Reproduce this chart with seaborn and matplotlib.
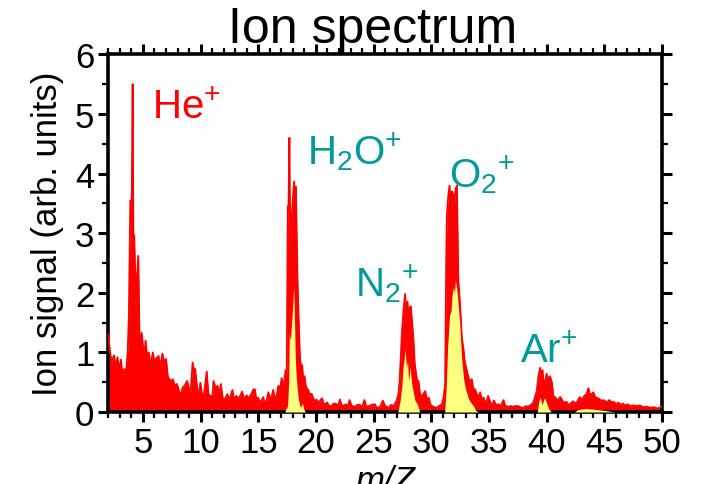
import matplotlib
matplotlib.use("Agg")
import matplotlib.pyplot as plt
import seaborn as sns
import pandas as pd
from matplotlib.ticker import MultipleLocator, FixedLocator

# ---------------- data ----------------
mz_total = [
    2.00, 2.15, 2.29, 2.49, 2.64, 2.79, 2.94, 3.09, 3.24, 3.39, 3.54, 3.68, 3.78, 3.91, 4.03, 4.11,
    4.17, 4.25, 4.37, 4.47, 4.60, 4.72, 4.89, 5.02, 5.12, 5.23, 5.36, 5.51, 5.66, 5.86, 6.01, 6.16,
    6.36, 6.51, 6.69, 6.86, 7.01, 7.16, 7.29, 7.45, 7.60, 7.75, 7.95, 8.14, 8.29, 8.44, 8.64, 8.83,
    8.98, 9.13, 9.31, 9.43, 9.53, 9.68, 9.83, 9.98, 10.13, 10.28, 10.53, 10.68, 10.87, 11.02, 11.12,
    11.32, 11.47, 11.62, 11.76, 11.91, 12.11, 12.31, 12.51, 12.76, 12.90, 13.10, 13.30, 13.60, 13.79,
    13.99, 14.19, 14.39, 14.58, 14.71, 14.83, 14.98, 15.13, 15.28, 15.43, 15.58, 15.73, 15.88, 16.07,
    16.30, 16.42, 16.50, 16.62, 16.74, 16.87, 17.03, 17.12, 17.23, 17.37, 17.47, 17.56, 17.62, 17.70,
    17.77, 17.87, 17.97, 18.11, 18.19, 18.26, 18.33, 18.39, 18.46, 18.54, 18.62, 18.69, 18.81, 18.92,
    19.01, 19.11, 19.21, 19.31, 19.46, 19.65, 19.75, 19.90, 20.05, 20.19, 20.34, 20.54, 20.69, 20.79,
    20.98, 21.13, 21.33, 21.53, 21.72, 21.92, 22.07, 22.22, 22.37, 22.61, 22.76, 22.91, 23.11, 23.38,
    23.60, 23.80, 24.00, 24.20, 24.35, 24.50, 24.80, 25.10, 25.25, 25.40, 25.60, 25.80, 26.00, 26.30,
    26.50, 26.70, 26.85, 27.00, 27.15, 27.25, 27.35, 27.45, 27.59, 27.73, 27.84, 27.94, 28.04, 28.14,
    28.23, 28.34, 28.46, 28.57, 28.67, 28.79, 28.89, 28.99, 29.13, 29.29, 29.48, 29.63, 29.78, 29.93,
    30.07, 30.27, 30.47, 30.67, 30.92, 31.07, 31.20, 31.29, 31.35, 31.46, 31.58, 31.68, 31.80, 31.91,
    32.01, 32.11, 32.22, 32.35, 32.50, 32.65, 32.79, 32.90, 33.05, 33.20, 33.35, 33.51, 33.64, 33.80,
    33.94, 34.09, 34.24, 34.39, 34.54, 34.68, 34.83, 34.93, 35.13, 35.28, 35.43, 35.62, 35.82, 36.02,
    36.26, 36.42, 36.71, 36.91, 37.11, 37.30, 37.55, 37.80, 38.00, 38.19, 38.39, 38.64, 38.85, 38.99,
    39.14, 39.29, 39.43, 39.54, 39.64, 39.72, 39.84, 39.99, 40.14, 40.29, 40.45, 40.59, 40.74, 40.89,
    41.18, 41.48, 41.73, 41.88, 42.08, 42.27, 42.47, 42.62, 42.86, 43.06, 43.31, 43.46, 43.62, 43.75,
    43.90, 44.05, 44.20, 44.35, 44.55, 44.74, 44.94, 45.24, 45.43, 45.63, 45.83, 46.03, 46.22, 46.42,
    46.62, 46.82, 47.01, 47.21, 47.51, 47.81, 48.10, 48.40, 48.70, 49.00, 49.29, 49.59, 49.80, 50.00,
]
signal_total = [
    1.31, 1.00, 0.85, 0.95, 0.75, 0.92, 0.70, 0.88, 0.62, 0.72, 0.68, 1.00, 1.60, 3.55, 3.50, 5.50,
    3.00, 2.95, 2.07, 2.20, 2.62, 1.10, 1.33, 1.08, 0.95, 1.20, 0.94, 1.00, 0.80, 1.00, 0.83, 0.90,
    0.94, 0.75, 0.98, 0.83, 0.89, 0.60, 0.55, 0.52, 0.55, 0.45, 0.47, 0.35, 0.27, 0.41, 0.45, 0.52,
    0.41, 0.30, 0.83, 0.70, 0.72, 0.45, 0.24, 0.49, 0.30, 0.27, 0.68, 0.30, 0.27, 0.24, 0.52,
    0.40, 0.44, 0.30, 0.47, 0.24, 0.21, 0.30, 0.21, 0.37, 0.21, 0.27, 0.22, 0.34, 0.22,
    0.28, 0.23, 0.30, 0.38, 0.38, 0.22, 0.24, 0.17, 0.19, 0.25, 0.13, 0.20, 0.33, 0.19,
    0.37, 0.22, 0.24, 0.30, 0.44, 0.36, 0.57, 0.45, 0.49, 0.70, 0.60, 3.45, 3.40, 4.60,
    2.80, 3.20, 3.50, 3.87, 3.60, 3.78, 3.03, 2.36, 1.80, 1.35, 0.89, 0.80, 0.78, 0.50,
    0.60, 0.45, 0.39, 0.38, 0.30, 0.30, 0.24, 0.18, 0.21, 0.15, 0.19, 0.23, 0.12, 0.13,
    0.16, 0.10, 0.10, 0.14, 0.14, 0.10, 0.21, 0.12, 0.10, 0.13, 0.08, 0.20, 0.10, 0.09,
    0.12, 0.12, 0.08, 0.20, 0.10, 0.09, 0.12, 0.13, 0.08, 0.07, 0.10, 0.19, 0.10, 0.07,
    0.12, 0.10, 0.14, 0.19, 0.30, 0.50, 0.90, 1.31, 1.70, 1.98, 1.60, 1.85, 1.50, 1.76,
    1.77, 1.50, 1.20, 0.80, 0.66, 0.50, 0.52, 0.35, 0.24, 0.30, 0.35, 0.20, 0.24, 0.12,
    0.10, 0.08, 0.07, 0.10, 0.13, 0.25, 0.47, 2.46, 3.30, 3.60, 3.80, 3.50, 3.70, 3.64,
    3.50, 3.75, 3.80, 2.19, 1.79, 1.25, 1.06, 0.85, 0.72, 0.60, 0.50, 0.55, 0.39, 0.38,
    0.30, 0.25, 0.33, 0.20, 0.24, 0.15, 0.20, 0.27, 0.15, 0.12, 0.19, 0.12, 0.13, 0.10,
    0.20, 0.10, 0.09, 0.10, 0.09, 0.10, 0.10, 0.07, 0.07, 0.10, 0.09, 0.12, 0.16, 0.25,
    0.35, 0.60, 0.74, 0.60, 0.70, 0.54, 0.45, 0.64, 0.55, 0.60, 0.50, 0.26, 0.25, 0.19,
    0.25, 0.16, 0.17, 0.12, 0.14, 0.18, 0.15, 0.16, 0.25, 0.21, 0.28, 0.30, 0.40, 0.30,
    0.30, 0.33, 0.25, 0.24, 0.22, 0.19, 0.20, 0.16, 0.20, 0.16, 0.17, 0.13, 0.16, 0.12,
    0.14, 0.11, 0.13, 0.10, 0.11, 0.10, 0.11, 0.08, 0.09, 0.07, 0.08, 0.06, 0.07, 0.10,
]

mz_partial = [
    2.00, 17.30, 17.39, 17.54, 17.64, 17.69, 17.79, 17.89, 17.99, 18.07, 18.14, 18.21, 18.29, 18.36,
    18.49, 18.65, 18.74, 18.83, 18.94, 19.09,
    27.10, 27.30, 27.45, 27.55, 27.65, 27.73, 27.84, 27.94, 28.03, 28.11, 28.17, 28.29, 28.39, 28.59,
    28.74, 28.89, 28.99,
    31.16, 31.29, 31.41, 31.51, 31.58, 31.71, 31.80, 31.91, 32.01, 32.09, 32.21, 32.29, 32.46, 32.56,
    32.66, 32.81, 32.96, 33.11, 33.23, 33.46, 33.66, 33.85, 34.05,
    39.19, 39.34, 39.44, 39.59, 39.74, 39.84, 39.99, 40.19, 40.39,
    42.40, 42.70, 43.40, 43.90, 44.90, 45.90, 50.00,
]
signal_partial = [
    0.00, 0.00, 0.05, 0.10, 0.50, 1.31, 1.20, 1.50, 1.80, 2.10, 1.60, 0.90, 0.60, 0.44,
    0.20, 0.08, 0.10, 0.15, 0.05, 0.00,
    0.00, 0.19, 0.45, 0.75, 0.90, 1.05, 0.75, 0.85, 0.52, 0.65, 0.75, 0.50, 0.38, 0.19,
    0.15, 0.07, 0.00,
    0.00, 0.39, 1.06, 1.40, 1.62, 1.70, 1.96, 2.10, 2.00, 2.21, 2.05, 1.90, 1.50, 1.15,
    0.84, 0.55, 0.39, 0.30, 0.22, 0.15, 0.10, 0.03, 0.00,
    0.00, 0.20, 0.25, 0.12, 0.20, 0.24, 0.15, 0.05, 0.00,
    0.00, 0.04, 0.06, 0.05, 0.03, 0.00, 0.00,
]

ion_labels = ["He$^{+}$", "H$_{2}$O$^{+}$", "N$_{2}$$^{+}$", "O$_{2}$$^{+}$", "Ar$^{+}$"]
ion_label_x = [5.75, 19.25, 23.35, 31.55, 37.7]
ion_label_y = [4.94, 4.17, 1.96, 3.78, 0.84]
ion_label_colors = ["#ff0000", "#009a9a", "#009a9a", "#009a9a", "#009a9a"]

x_major_ticks = [5, 10, 15, 20, 25, 30, 35, 40, 45, 50]

# ---------------- style ----------------
sns.set_theme(style="ticks")
plt.rcParams["font.family"] = ["Liberation Sans", "DejaVu Sans"]
plt.rcParams["mathtext.fontset"] = "custom"
plt.rcParams["mathtext.rm"] = "Liberation Sans"
plt.rcParams["mathtext.it"] = "Liberation Sans:italic"
plt.rcParams["mathtext.default"] = "rm"
plt.rcParams["text.color"] = "black"
plt.rcParams["axes.labelcolor"] = "black"
plt.rcParams["xtick.color"] = "black"
plt.rcParams["ytick.color"] = "black"

fig = plt.figure(figsize=(7.04, 4.85), dpi=100)
ax = fig.add_axes([108.3 / 704, 1 - 413 / 485, (662 - 108.3) / 704, (413 - 55.4) / 485])

df_total = pd.DataFrame({"mz": mz_total, "signal": signal_total})
df_partial = pd.DataFrame({"mz": mz_partial, "signal": signal_partial})

ax.fill_between(df_total["mz"], df_total["signal"], 0, color="#ff0000", lw=0, zorder=2)
sns.lineplot(data=df_total, x="mz", y="signal", color="#ff0000", lw=1.3,
             estimator=None, sort=False, ax=ax, zorder=3)
ax.fill_between(df_partial["mz"], df_partial["signal"], 0, color="#ffff80", lw=0, zorder=4)

for lab, lx, ly, c in zip(ion_labels, ion_label_x, ion_label_y, ion_label_colors):
    ax.text(lx, ly, lab, color=c, fontsize=29, ha="left", va="baseline", zorder=5)

ax.set_xlim(2, 50)
ax.set_ylim(0, 6)
ax.xaxis.set_major_locator(FixedLocator(x_major_ticks))
ax.xaxis.set_minor_locator(MultipleLocator(1))
ax.yaxis.set_major_locator(MultipleLocator(1))
ax.yaxis.set_minor_locator(MultipleLocator(0.5))

for sp in ax.spines.values():
    sp.set_visible(True)
    sp.set_linewidth(2.6)
    sp.set_color("black")

ax.tick_params(which="both", direction="out", top=True, right=True, color="black")
ax.tick_params(which="major", length=7, width=2.2, labelsize=25, pad=3, labelcolor="black")
ax.tick_params(which="minor", length=4, width=1.6)

ax.set_xlabel("m/Z", fontsize=25, fontstyle="italic", labelpad=4)
ax.set_ylabel("Ion signal (arb. units)", fontsize=25, labelpad=8)
ax.set_title("Ion spectrum", fontsize=36, x=0.478, pad=9, color="black")

fig.savefig("out.png", dpi=100, facecolor="white")
